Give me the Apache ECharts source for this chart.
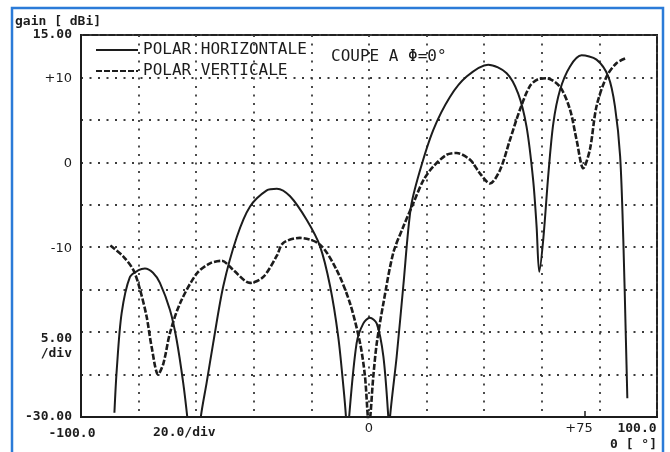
<!DOCTYPE html>
<html>
<head>
<meta charset="utf-8">
<script src="https://cdn.jsdelivr.net/npm/echarts@6/dist/echarts.min.js"></script>
<style>
  html, body { margin: 0; padding: 0; background: #ffffff; }
  #chart { width: 670px; height: 452px; }
</style>
</head>
<body>
<div id="chart"></div>
<script>
// Horizontal polarisation cut (solid trace): angle in degrees, gain in dBi.
// Values below -30 dBi are nulls that run off the bottom of the plot.
const hAngle = [-88.4, -87.6, -85.9, -83.0, -80.0, -77.8, -75.0, -72.6, -69.1, -66.8, -64.5, -63.1, -60.7,
  -58.4, -56.4, -54.1, -50.6, -45.9, -41.3, -35.5, -32.0, -27.4, -21.6, -17.0, -13.5, -10.7, -8.9, -8.0, -7.45,
  -6.9, -4.3, -2.0, 0.3, 2.7, 5.0, 6.7, 7.0,
  7.3, 9.6, 11.9, 14.5, 17.5, 22.3, 28.1, 33.9, 41.4, 47.8, 51.8, 54.7, 57.0, 58.2, 59.1,
  60.5, 62.3, 64.0, 66.3, 69.8, 73.8, 79.0, 83.1, 85.4, 87.2, 88.3, 89.2, 89.7];
const hGain = [-29.5, -24.5, -17.8, -13.5, -12.7, -12.5, -13.0, -14.2, -17.4, -20.9, -26.0, -30.0, -38.0,
  -30.0, -26.0, -21.3, -14.6, -8.8, -5.2, -3.3, -3.1, -4.0, -6.8, -9.9, -14.6, -20.5, -26.4, -30.0, -34.0,
  -30.0, -21.3, -19.0, -18.3, -19.0, -22.9, -30.0, -33.0,
  -30.0, -22.9, -14.6, -5.4, -1.2, 3.8, 7.7, 10.1, 11.5, 10.5, 8.1, 4.2, -2.1, -7.6, -12.9,
  -9.1, -1.3, 4.6, 8.5, 11.3, 12.6, 12.1, 10.1, 6.6, 0.7, -9.1, -20.9, -27.8];

// Vertical polarisation cut (dashed trace).
const vAngle = [-89.8, -85.3, -81.8, -79.5, -77.2, -75.5, -73.2, -71.4, -69.1, -65.6, -59.8, -55.2, -51.1,
  -47.1, -41.3, -36.7, -32.0, -29.8, -24.0, -17.0, -11.2, -6.6, -3.1, -1.4, 0.0, 1.5, 2.7, 5.0, 8.4, 11.9,
  15.4, 18.9, 22.3, 27.0, 30.4, 35.1, 38.5, 42.0, 45.5, 48.9, 52.4, 55.9, 58.8, 61.7, 66.3, 69.8, 72.1,
  74.4, 76.7, 79.0, 82.5, 86.0, 89.5];
const vGain = [-9.8, -11.1, -12.7, -15.0, -18.2, -21.7, -25.0, -23.7, -20.1, -16.6, -13.1, -11.9, -11.6,
  -12.7, -14.2, -13.5, -11.0, -9.5, -8.9, -9.7, -12.7, -16.6, -21.3, -25.2, -31.0, -25.2, -21.3, -16.6, -10.7, -7.6,
  -4.8, -2.1, -0.5, 0.9, 1.1, 0.3, -1.3, -2.5, -0.9, 2.6, 6.2, 9.0, 9.8, 9.9, 8.9, 6.2, 2.6,
  -0.7, 1.5, 6.6, 10.1, 11.7, 12.3];

// Tick labels
const yTickValues = [15, 10, 0, -10, -30];
const yTickText = { '15': '{p|15.00}', '10': '{h|+10}', '0': '{h|0}', '-10': '{h|-10}', '-30': '{p|-30.00}' };
const xTickValues = [-100, 0, 75, 100];
const xTickText = { '-100': '{a|-100.0}', '0': '{z|0}', '75': '{b|+75}', '100': '{c|100.0}' };
const xMarkedTick = [75];

const seriesNames = ['POLAR HORIZONTALE', 'POLAR VERTICALE'];

const ink = '#1c1c1c';
const mono = '"DejaVu Sans Mono", monospace';
const hand = '"DejaVu Sans", sans-serif';

function pairs(xs, ys) { return xs.map((x, i) => [x, ys[i]]); }

const chart = echarts.init(document.getElementById('chart'), null, { renderer: 'canvas' });

const dotted = { type: [2, 6.5], width: 1.8, color: '#3a3a3a' };

chart.setOption({
  backgroundColor: '#ffffff',
  animation: false,
  color: [ink, ink],
  title: {
    text: 'COUPE A Φ=0°',
    left: 326, top: 44,
    textStyle: { fontFamily: mono, fontSize: 16, fontWeight: 'normal', color: ink }
  },
  legend: {
    data: seriesNames,
    orient: 'vertical',
    left: 90, top: 37,
    itemWidth: 42, itemHeight: 12, itemGap: 5,
    itemStyle: { opacity: 0 },
    textStyle: { fontFamily: mono, fontSize: 16, color: ink }
  },
  grid: {
    left: 81, right: 13, top: 35, bottom: 35,
    show: true, borderColor: '#222', borderWidth: 2, backgroundColor: 'transparent'
  },
  xAxis: [
    {
      type: 'value', min: -100, max: 100, interval: 20,
      axisLine: { show: true, onZero: false, lineStyle: { color: ink, width: 2 } },
      axisTick: { show: false },
      splitLine: { show: true, lineStyle: dotted },
      axisLabel: {
        customValues: xTickValues,
        margin: 3,
        formatter: v => xTickText[String(v)] || '',
        rich: {
          a: { fontFamily: mono, fontWeight: 'bold', fontSize: 13, color: ink, padding: [7, 18, 0, 0] },
          z: { fontFamily: hand, fontSize: 13, color: ink, padding: [2, 0, 0, 0] },
          b: { fontFamily: hand, fontSize: 13, color: ink, padding: [2, 12, 0, 0] },
          c: { fontFamily: mono, fontWeight: 'bold', fontSize: 13, color: ink, padding: [2, 40, 0, 0] }
        }
      }
    },
    {
      // hand-drawn tick at +75 degrees
      type: 'value', min: -100, max: 100, position: 'bottom', offset: 0,
      axisLine: { show: false, onZero: false },
      axisTick: { show: true, customValues: xMarkedTick, length: 6, inside: true, lineStyle: { color: ink, width: 1.5 } },
      axisLabel: { show: false },
      splitLine: { show: false }
    }
  ],
  yAxis: {
    type: 'value', min: -30, max: 15, interval: 5,
    axisLine: { show: true, onZero: false, lineStyle: { color: ink, width: 2 } },
    axisTick: { show: false },
    splitLine: { show: true, lineStyle: dotted },
    axisLabel: {
      customValues: yTickValues,
      margin: 9,
      formatter: v => yTickText[String(v)] || '',
      rich: {
        p: { fontFamily: mono, fontWeight: 'bold', fontSize: 13, color: ink },
        h: { fontFamily: hand, fontSize: 13, color: ink, padding: [3, 0, 0, 0] }
      }
    }
  },
  graphic: [
    {
      type: 'rect', silent: true, z: 100,
      shape: { x: 12, y: 8, width: 651, height: 470 },
      style: { fill: 'none', stroke: '#2b7bd8', lineWidth: 2.5 }
    },
    {
      type: 'text', left: 15, top: 15,
      style: { text: 'gain [ dBi]', font: 'bold 13px ' + mono, fill: ink }
    },
    {
      type: 'text', right: 670 - 72, top: 331,
      style: { text: '5.00\n/div', font: 'bold 13px ' + mono, fill: ink, align: 'right', lineHeight: 15 }
    },
    {
      type: 'text', left: 153, top: 426,
      style: { text: '20.0/div', font: 'bold 13px ' + mono, fill: ink }
    },
    {
      type: 'text', left: 610, top: 438,
      style: { text: '0 [ °]', font: 'bold 13px ' + mono, fill: ink }
    }
  ],
  series: [
    {
      name: seriesNames[0], type: 'line', data: pairs(hAngle, hGain),
      smooth: 0.3, symbol: 'none', clip: true,
      itemStyle: { color: ink },
      lineStyle: { color: ink, width: 2 }
    },
    {
      name: seriesNames[1], type: 'line', data: pairs(vAngle, vGain),
      smooth: 0.3, symbol: 'none', clip: true,
      itemStyle: { color: ink },
      lineStyle: { color: ink, width: 2.6, type: [6, 2] }
    }
  ]
});
</script>
</body>
</html>
